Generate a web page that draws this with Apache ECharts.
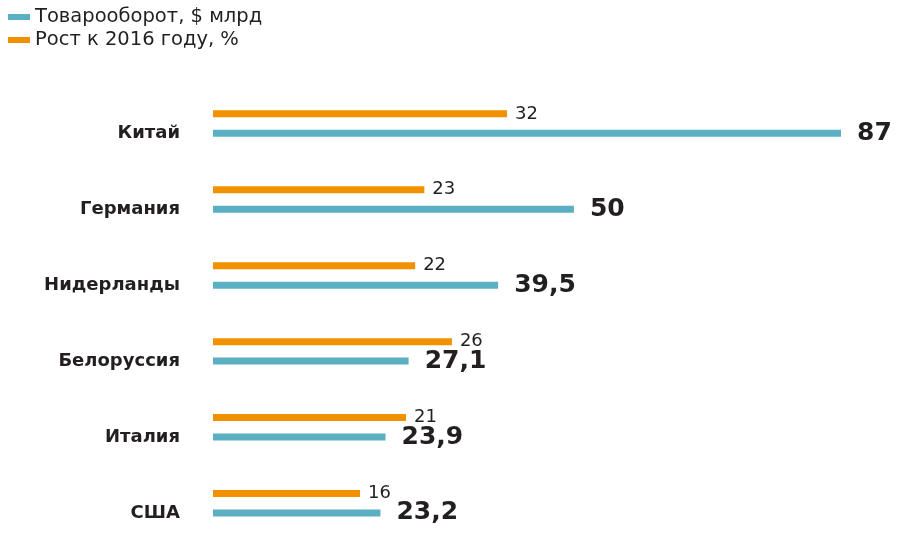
<!DOCTYPE html>
<html>
<head>
<meta charset="utf-8">
<script src="https://cdn.jsdelivr.net/npm/echarts@6/dist/echarts.min.js"></script>
<style>html,body{margin:0;padding:0;background:#fff}#c{width:897px;height:536px}</style>
</head>
<body>
<div id="c"></div>
<script>
const categories = ['Китай', 'Германия', 'Нидерланды', 'Белоруссия', 'Италия', 'США'];
const turnover = [87, 50, 39.5, 27.1, 23.9, 23.2];
const growth = [32, 23, 22, 26, 21, 16];
const seriesNames = ['Товарооборот, $ млрд', 'Рост к 2016 году, %'];

const FONT = 'DejaVu Sans';
const TXT = '#231f20';
const BLUE = '#5bafc3';
const ORANGE = '#f29100';

const chart = echarts.init(document.getElementById('c'));
chart.setOption({
  animation: false,
  textStyle: { fontFamily: FONT },
  legend: {
    orient: 'vertical', left: 8, top: 7, itemGap: 3, padding: 0,
    icon: 'rect', itemWidth: 22, itemHeight: 6,
    data: [seriesNames[0], seriesNames[1]],
    textStyle: { fontFamily: FONT, fontSize: 19.5, color: TXT, lineHeight: 20 }
  },
  grid: { left: 213, top: 123.6, right: 4, bottom: 32.8, containLabel: false },
  xAxis: [
    { type: 'value', min: 0, max: 94.2, show: false },
    { type: 'value', min: 0, max: 74.0, show: false }
  ],
  yAxis: {
    type: 'category', data: categories, inverse: true, boundaryGap: false,
    axisLine: { show: false }, axisTick: { show: false }, splitLine: { show: false },
    axisLabel: { margin: 33, fontFamily: FONT, fontSize: 18, fontWeight: 'bold', color: TXT, verticalAlign: 'top', padding: [1, 0, 0, 0] }
  },
  series: [
    {
      name: seriesNames[1], type: 'bar', xAxisIndex: 1, data: growth,
      barWidth: 7, barGap: '178%', itemStyle: { color: ORANGE },
      label: { show: true, position: 'right', distance: 8, fontFamily: FONT, fontSize: 18, color: TXT }
    },
    {
      name: seriesNames[0], type: 'bar', xAxisIndex: 0, data: turnover,
      barWidth: 7, barGap: '178%', itemStyle: { color: BLUE },
      label: { show: true, position: 'right', distance: 16, fontFamily: FONT, fontSize: 25, fontWeight: 'bold', color: TXT,
        formatter: p => String(p.value).replace('.', ',') }
    }
  ]
});
</script>
</body>
</html>
